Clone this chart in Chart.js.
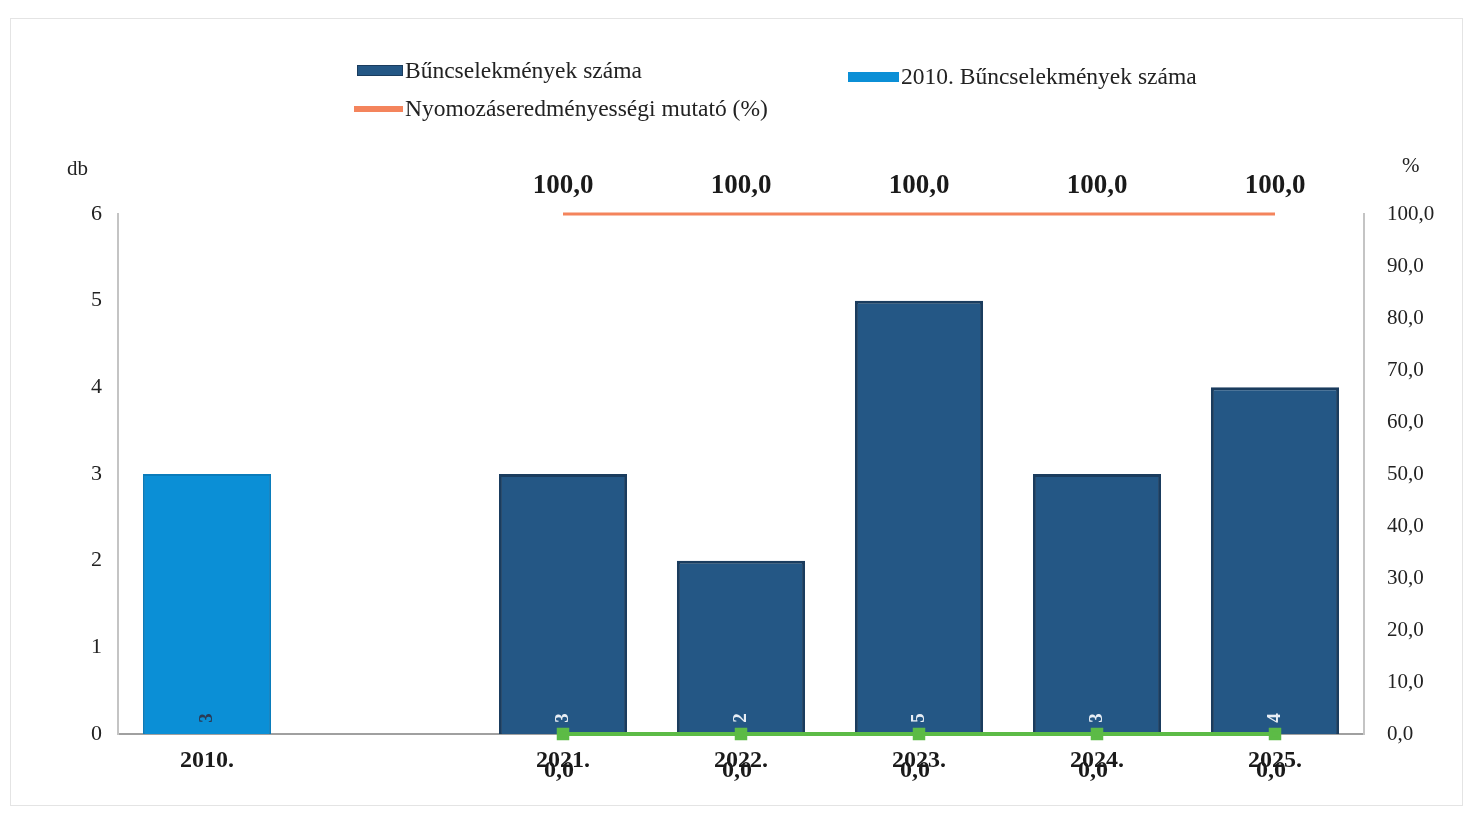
<!DOCTYPE html>
<html>
<head>
<meta charset="utf-8">
<script src="https://cdn.jsdelivr.net/npm/chart.js@4.4.1/dist/chart.umd.min.js"></script>
<style>
	html, body { margin: 0; padding: 0; background: #fff; }
	#wrap { position: relative; width: 1473px; height: 814px; font-family: 'Liberation Serif', 'DejaVu Serif', serif; color: #222; }
	#frame { position: absolute; left: 10px; top: 18px; width: 1453px; height: 788px; border: 1px solid #e4e4e4; box-sizing: border-box; }
	#chartBox { position: absolute; left: 0; top: 0; width: 1473px; height: 814px; }
	.leg { position: absolute; font-size: 23.5px; white-space: nowrap; line-height: 24px; }
	.sw { display: inline-block; vertical-align: middle; margin-right: 2px; position: relative; top: -2px; }
	.axt { position: absolute; font-size: 21px; }
</style>
</head>
<body>
<div id="wrap">
	<div id="frame"></div>
	<div id="chartBox"><canvas id="chart"></canvas></div>
	<div class="leg" style="left:357px; top:58px;"><span class="sw" style="width:46px; height:11px; background:#245785; border:1px solid #1a3c5e; box-sizing:border-box;"></span>Bűncselekmények száma</div>
	<div class="leg" style="left:848px; top:64px;"><span class="sw" style="width:51px; height:10px; background:#0b8fd6;"></span>2010. Bűncselekmények száma</div>
	<div class="leg" style="left:354px; top:96px;"><span class="sw" style="width:49px; height:6px; background:#f4845c;"></span>Nyomozáseredményességi mutató (%)</div>
	<div class="axt" style="left:67px; top:156px;">db</div>
	<div class="axt" style="left:1402px; top:153px;">%</div>
</div>
<script>
const categories = ['2010.', '', '2021.', '2022.', '2023.', '2024.', '2025.'];
const crimes2010 = [3, null, null, null, null, null, null];
const crimes = [null, null, 3, 2, 5, 3, 4];
const clearanceRate = [null, null, 100, 100, 100, 100, 100];
const otherRate = [null, null, 0, 0, 0, 0, 0];
const leftTicks = [0, 1, 2, 3, 4, 5, 6];
const rightTicks = [0, 10, 20, 30, 40, 50, 60, 70, 80, 90, 100];

const fmt1 = (v) => v.toFixed(1).replace('.', ',');
const serif = "'Liberation Serif', 'DejaVu Serif', serif";

// labels on bars and line points
const valueLabels = {
	id: 'valueLabels',
	afterDatasetsDraw(chart) {
		const ctx = chart.ctx;
		chart.data.datasets.forEach((ds, i) => {
			const meta = chart.getDatasetMeta(i);
			meta.data.forEach((el, j) => {
				const v = ds.data[j];
				if (v === null || v === undefined) return;
				ctx.save();
				ctx.textAlign = 'center';
				ctx.textBaseline = 'middle';
				if (meta.type === 'bar') {
					ctx.translate(el.x, el.base - 16);
					ctx.rotate(-Math.PI / 2);
					ctx.font = 'bold 19px ' + serif;
					ctx.fillStyle = ds.labelColor;
					ctx.fillText(String(v), 0, 0);
				} else {
					ctx.font = 'bold ' + ds.labelSize + 'px ' + serif;
					ctx.fillStyle = '#1a1a1a';
					ctx.fillText(fmt1(v), el.x - ds.labelShift, el.y + ds.labelOffset);
				}
				ctx.restore();
			});
		});
	},
};

new Chart(document.getElementById('chart'), {
	type: 'bar',
	data: {
		labels: categories,
		datasets: [
			{
				label: 'Nyomozáseredményességi mutató (%)',
				type: 'line',
				data: clearanceRate,
				yAxisID: 'y1',
				borderColor: '#f4845c',
				backgroundColor: '#f4845c',
				borderWidth: 3,
				pointRadius: 0,
				clip: false,
				labelOffset: -28,
				labelSize: 27,
				labelShift: 0,
				order: 0,
			},
			{
				label: 'mutató',
				type: 'line',
				data: otherRate,
				yAxisID: 'y1',
				borderColor: '#5cbb46',
				backgroundColor: '#5cbb46',
				borderWidth: 4,
				pointStyle: 'rect',
				pointRadius: 6,
				clip: false,
				labelOffset: 37,
				labelSize: 24,
				labelShift: 4,
				order: 0,
			},
			{
				label: 'Bűncselekmények száma',
				data: crimes,
				yAxisID: 'y',
				backgroundColor: '#245785',
				borderColor: '#1a3c5e',
				borderWidth: 3,
				labelColor: '#e8eef5',
				grouped: false,
				order: 1,
			},
			{
				label: '2010. Bűncselekmények száma',
				data: crimes2010,
				yAxisID: 'y',
				backgroundColor: '#0b8fd6',
				borderColor: '#0a7cbb',
				borderWidth: 2,
				labelColor: '#2a3a55',
				grouped: false,
				order: 1,
			},
		],
	},
	options: {
		responsive: true,
		maintainAspectRatio: false,
		animation: false,
		layout: { padding: { top: 214, bottom: 0, left: 0, right: 0 } },
		datasets: {
			bar: { barPercentage: 1, categoryPercentage: 0.72 },
		},
		plugins: {
			legend: { display: false },
			title: { display: false },
			tooltip: { enabled: false },
		},
		scales: {
			x: {
				grid: { display: false },
				border: { display: true, color: '#a0a0a0', width: 2 },
				ticks: {
					font: { family: serif, size: 24, weight: 'bold' },
					color: '#1a1a1a',
					padding: 4,
					maxRotation: 0,
					autoSkip: false,
				},
				afterFit(scale) { scale.height = 80; },
			},
			y: {
				position: 'left',
				min: 0,
				max: 6,
				afterBuildTicks(scale) { scale.ticks = leftTicks.map((v) => ({ value: v })); },
				grid: { display: false },
				border: { display: true, color: '#c4c4c4', width: 2 },
				ticks: {
					font: { family: serif, size: 22 },
					color: '#222',
					padding: 8,
				},
				afterFit(scale) { scale.width = 118; },
			},
			y1: {
				position: 'right',
				min: 0,
				max: 100,
				afterBuildTicks(scale) { scale.ticks = rightTicks.map((v) => ({ value: v })); },
				grid: { display: false },
				border: { display: true, color: '#c4c4c4', width: 2 },
				ticks: {
					font: { family: serif, size: 21 },
					color: '#222',
					padding: 15,
					callback: (v) => fmt1(v),
				},
				afterFit(scale) { scale.width = 109; },
			},
		},
	},
	plugins: [valueLabels],
});
</script>
</body>
</html>
